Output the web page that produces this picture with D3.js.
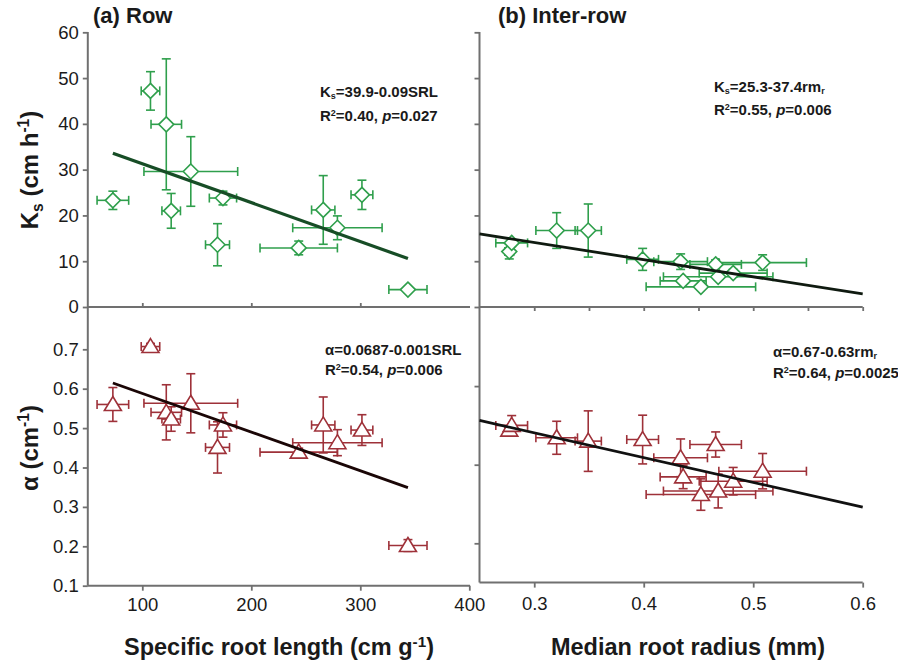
<!DOCTYPE html>
<html><head><meta charset="utf-8">
<script src="https://cdn.jsdelivr.net/npm/d3@7"></script>
<style>
html,body{margin:0;padding:0;background:#fff;}
svg{display:block;font-family:"Liberation Sans",Arial,sans-serif;}
</style></head>
<body>
<svg id="c" width="898" height="663"></svg>
<script>
// ---- data ----
const srl      = [73, 107.5, 122, 126.5, 144.5, 169, 174, 243.5, 266, 279, 301.5, 343.7];
const srlErr   = [14.5, 8.5, 14, 8.5, 43, 11, 12.5, 35.5, 10.7, 41, 10, 17.5];
const ksRow    = [23.3, 47.2, 39.9, 21.0, 29.6, 13.6, 23.8, 12.9, 21.2, 17.3, 24.5, 3.8];
const ksRowErr = [2.0, 4.2, 14.3, 3.8, 7.6, 4.6, 1.5, 1.5, 7.5, 2.6, 3.2, 0.6];
const alphaRow    = [0.560, 0.707, 0.540, 0.523, 0.563, 0.451, 0.508, 0.439, 0.508, 0.463, 0.495, 0.202];
const alphaRowErr = [0.043, 0.008, 0.070, 0.031, 0.075, 0.065, 0.031, 0.010, 0.071, 0.033, 0.039, 0.015];

const rm       = [0.2772, 0.2794, 0.3205, 0.3493, 0.399, 0.4337, 0.436, 0.4522, 0.4657, 0.468, 0.4817, 0.5086];
const rmErr    = [0.004, 0.0145, 0.019, 0.012, 0.0145, 0.0245, 0.021, 0.050, 0.0235, 0.050, 0.031, 0.040];
const ksInter    = [12.1, 14.0, 16.7, 16.7, 10.4, 9.9, 5.7, 4.4, 9.3, 6.6, 7.4, 9.7];
const ksInterErr = [1.6, 0.8, 3.9, 5.8, 2.4, 1.7, 0.5, 0.5, 1.0, 0.5, 0.8, 1.7];
const alphaInter    = [0.488, 0.500, 0.4685, 0.460, 0.464, 0.4175, 0.369, 0.324, 0.4514, 0.333, 0.358, 0.3835];
const alphaInterErr = [0.010, 0.025, 0.042, 0.077, 0.062, 0.048, 0.030, 0.040, 0.032, 0.043, 0.035, 0.045];

// regression fits [intercept, slope]
const fitKsRow = [39.8, -0.085];
const fitKsInter = [25.3, -37.4];
const fitAlphaRow = [0.686, -0.00098];
const fitAlphaInter = [0.67, -0.63];

const ksTicks = [0, 10, 20, 30, 40, 50, 60];
const alphaTicks = [0.1, 0.2, 0.3, 0.4, 0.5, 0.6, 0.7];
const srlTicks = [100, 200, 300, 400];
const rmTicks = [0.3, 0.4, 0.5, 0.6];
const rmMinorTicks = [0.3, 0.35, 0.4, 0.45, 0.5, 0.55, 0.6];
const alphaRightTicks = [0.2, 0.4, 0.6];

// ---- layout ----
const svg = d3.select("#c");
const xL = d3.scaleLinear([50, 400], [87.8, 469.3]);
const xR = d3.scaleLinear([0.25, 0.6], [479.5, 862.7]);
const yT = d3.scaleLinear([0, 60], [307, 32.3]);
const yBL = d3.scaleLinear([0.1, 0.8], [585.7, 309.9]);
const yBR = d3.scaleLinear([0.1, 0.8], [582.6, 307.5]);

const axisCol = "#707070", textCol = "#1a1a1a";
const green = "#2f9f4c", red = "#9e3139";

function styleAxis(g) {
  g.select(".domain").remove();
  g.selectAll(".tick line").attr("stroke", axisCol).attr("stroke-width", 1.8);
  g.selectAll(".tick text").attr("fill", textCol).style("font-size", "18.5px")
    .style("font-family", "'Liberation Sans',Arial,sans-serif");
}
function line(x1, y1, x2, y2) {
  svg.append("line").attr("x1", x1).attr("y1", y1).attr("x2", x2).attr("y2", y2)
    .attr("stroke", axisCol).attr("stroke-width", 2);
}

// axis lines
line(xL(50), 32, xL(50), yBL(0.1));
line(xL(50), yT(0), 470, yT(0));
line(xL(50), yBL(0.1), 470, yBL(0.1));
line(xR(0.25), 32, xR(0.25), yBR(0.1));
line(xR(0.25), yT(0), xR(0.6), yT(0));
line(xR(0.25), yBR(0.1), xR(0.6), yBR(0.1));

// ticks and labels
svg.append("g").attr("transform", `translate(${xL(50)},0)`)
  .call(d3.axisLeft(yT).tickValues(ksTicks).tickSize(5).tickPadding(4).tickFormat(d3.format("d"))).call(styleAxis);
svg.append("g").attr("transform", `translate(${xL(50)},0)`)
  .call(d3.axisLeft(yBL).tickValues(alphaTicks).tickSize(5).tickPadding(4).tickFormat(d3.format(".1f"))).call(styleAxis);
svg.append("g").attr("transform", `translate(0,${yT(0)})`)
  .call(d3.axisTop(xL).tickValues([100, 200, 300]).tickSize(4).tickFormat("")).call(styleAxis);
svg.append("g").attr("transform", `translate(0,${yBL(0.1)})`)
  .call(d3.axisBottom(xL).tickValues(srlTicks).tickSize(5).tickPadding(7).tickFormat(d3.format("d"))).call(styleAxis);

svg.append("g").attr("transform", `translate(${xR(0.25)},0)`)
  .call(d3.axisLeft(yT).tickValues(ksTicks).tickSize(5).tickFormat("")).call(styleAxis);
svg.append("g").attr("transform", `translate(${xR(0.25)},0)`)
  .call(d3.axisLeft(yBR).tickValues(alphaRightTicks).tickSize(5).tickFormat("")).call(styleAxis);
svg.append("g").attr("transform", `translate(0,${yT(0)})`)
  .call(d3.axisBottom(xR).tickValues(rmMinorTicks).tickSize(4).tickFormat("")).call(styleAxis);
svg.append("g").attr("transform", `translate(0,${yBR(0.1)})`)
  .call(d3.axisBottom(xR).tickValues(rmTicks).tickSize(5).tickPadding(9).tickFormat(d3.format(".1f"))).call(styleAxis);

// ---- series ----
const diamond = "M0,-7.5L7.5,0L0,7.5L-7.5,0Z";
const triangle = "M0,-8L8.5,6L-8.5,6Z";
function series(xs, xe, ys, ye, xs_, ys_, color, shape) {
  const g = svg.append("g");
  const cap = 4.5;
  xs.forEach((xv, i) => {
    const cx = xs_(xv), cy = ys_(ys[i]);
    const x0 = xs_(xv - xe[i]), x1 = xs_(xv + xe[i]);
    const y0 = ys_(ys[i] - ye[i]), y1 = ys_(ys[i] + ye[i]);
    const e = g.append("g").attr("stroke", color).attr("stroke-width", 1.6).attr("fill", "none");
    e.append("line").attr("x1", x0).attr("x2", x1).attr("y1", cy).attr("y2", cy);
    e.append("line").attr("x1", x0).attr("x2", x0).attr("y1", cy - cap).attr("y2", cy + cap);
    e.append("line").attr("x1", x1).attr("x2", x1).attr("y1", cy - cap).attr("y2", cy + cap);
    e.append("line").attr("x1", cx).attr("x2", cx).attr("y1", y0).attr("y2", y1);
    e.append("line").attr("x1", cx - cap).attr("x2", cx + cap).attr("y1", y0).attr("y2", y0);
    e.append("line").attr("x1", cx - cap).attr("x2", cx + cap).attr("y1", y1).attr("y2", y1);
  });
  xs.forEach((xv, i) => {
    g.append("path").attr("d", shape)
      .attr("transform", `translate(${xs_(xv)},${ys_(ys[i])})`)
      .attr("fill", "#fff").attr("stroke", color).attr("stroke-width", 1.6);
  });
}
function fitLine(fit, x0, x1, xs_, ys_, color, w) {
  svg.append("line")
    .attr("x1", xs_(x0)).attr("y1", ys_(fit[0] + fit[1] * x0))
    .attr("x2", xs_(x1)).attr("y2", ys_(fit[0] + fit[1] * x1))
    .attr("stroke", color).attr("stroke-width", w);
}

series(srl, srlErr, ksRow, ksRowErr, xL, yT, green, diamond);
fitLine(fitKsRow, d3.min(srl), d3.max(srl), xL, yT, "#174d26", 3.2);
series(rm, rmErr, ksInter, ksInterErr, xR, yT, green, diamond);
fitLine(fitKsInter, 0.25, 0.6, xR, yT, "#0f1a10", 2.8);
series(srl, srlErr, alphaRow, alphaRowErr, xL, yBL, red, triangle);
fitLine(fitAlphaRow, d3.min(srl), d3.max(srl), xL, yBL, "#1a0606", 2.9);
series(rm, rmErr, alphaInter, alphaInterErr, xR, yBR, red, triangle);
fitLine(fitAlphaInter, 0.25, 0.6, xR, yBR, "#111", 2.8);

// ---- text ----
function txt(x, y, size, parts, opts = {}) {
  const t = svg.append("text").attr("x", x).attr("y", y)
    .attr("fill", textCol).style("font-size", size + "px").style("font-weight", "bold");
  if (opts.anchor) t.attr("text-anchor", opts.anchor);
  if (opts.rotate) t.attr("transform", `rotate(-90,${x},${y})`);
  const small = opts.small || 0.65;
  parts.forEach(p => {
    if (typeof p === "string") { t.append("tspan").text(p); return; }
    const s = t.append("tspan").text(p.t);
    if (p.sup) s.attr("baseline-shift", (size * 0.36) + "px").style("font-size", (size * small) + "px");
    if (p.sub) s.attr("baseline-shift", (-size * (opts.subShift || 0.2)) + "px").style("font-size", (size * small) + "px");
    if (p.it) s.style("font-style", "italic");
  });
  return t;
}

txt(93, 23, 22, ["(a) Row"]);
txt(498, 23, 22, ["(b) Inter-row"]);

const eq = {small: 0.6, subShift: 0.12};
txt(320, 97, 15, ["K", {t: "s", sub: 1}, "=39.9-0.09SRL"], eq);
txt(320, 121, 15, ["R", {t: "2", sup: 1}, "=0.40, ", {t: "p", it: 1}, "=0.027"], eq);
txt(714, 92, 15, ["K", {t: "s", sub: 1}, "=25.3-37.4rm", {t: "r", sub: 1}], eq);
txt(714, 115, 15, ["R", {t: "2", sup: 1}, "=0.55, ", {t: "p", it: 1}, "=0.006"], eq);
txt(325, 355, 15, ["α=0.0687-0.001SRL"], eq);
txt(325, 375, 15, ["R", {t: "2", sup: 1}, "=0.54, ", {t: "p", it: 1}, "=0.006"], eq);
txt(773, 357, 15, ["α=0.67-0.63rm", {t: "r", sub: 1}], eq);
txt(773, 378, 15, ["R", {t: "2", sup: 1}, "=0.64, ", {t: "p", it: 1}, "=0.0025"], eq);

txt(279, 655, 23.5, ["Specific root length (cm g", {t: "-1", sup: 1}, ")"], {anchor: "middle"});
txt(688, 655, 23.5, ["Median root radius (mm)"], {anchor: "middle"});
txt(38, 170, 24, ["K", {t: "s", sub: 1}, " (cm h", {t: "-1", sup: 1}, ")"], {anchor: "middle", rotate: 1});
txt(38, 448, 24, ["α (cm", {t: "-1", sup: 1}, ")"], {anchor: "middle", rotate: 1});
</script>
</body></html>
